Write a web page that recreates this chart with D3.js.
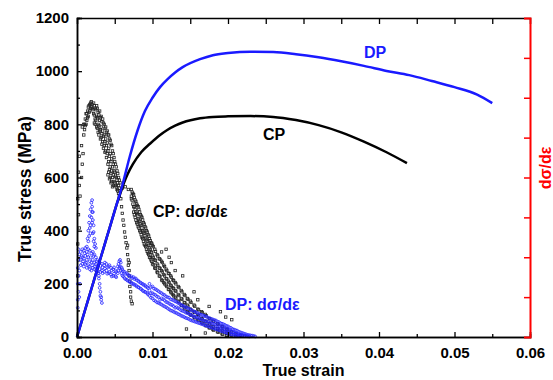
<!DOCTYPE html>
<html>
<head>
<meta charset="utf-8">
<script src="https://cdn.jsdelivr.net/npm/d3@7"></script>
<style>
  body { margin: 0; background: #fff; }
  svg { display: block; font-family: "Liberation Sans", Arial, sans-serif; font-weight: bold; }
</style>
</head>
<body>
<div id="graph"></div>
<script>
// true stress-strain curves [strain, MPa]
const dpCurve = [[0,0],[0.001,95],[0.002,190],[0.003,285],[0.004,380],[0.005,475],[0.006,570],[0.007,680],
  [0.008,775],[0.009,850],[0.010,900],[0.011,940],[0.012,970],[0.013,995],[0.014,1015],[0.0163,1045],
  [0.018,1060],[0.020,1068],[0.023,1073],[0.026,1072],[0.029,1064],[0.032,1052],[0.035,1037],[0.038,1020],
  [0.041,1001],[0.044,985],[0.047,963],[0.050,940],[0.053,912],[0.055,880]];

const cpCurve = [[0,0],[0.001,95],[0.002,190],[0.003,285],[0.004,380],[0.005,475],[0.0054,512],[0.0058,545],
  [0.0062,578],[0.0067,612],[0.0074,650],[0.0085,695],[0.0097,728],[0.011,760],[0.0119,778],[0.013,795],
  [0.014,807],[0.0163,823],[0.018,828],[0.020,830],[0.023,831],[0.026,828],[0.029,816],[0.032,797],
  [0.035,770],[0.038,735],[0.041,695],[0.0437,654]];

// work hardening rate dσ/dε, CP (black squares)
const cpRate = [
  [0.0001,230],[0.0002,290],[0.0001,350],[0.0003,410],[0.0002,460],[0.0001,520],[0.0003,570],[0.0002,620],
  [0.0006,600],[0.0007,650],[0.0008,690],[0.0006,720],[0.0009,760],[0.0007,790],[0.0004,530],[0.0003,680],
  [0.0009,800],[0.0010,780],[0.0011,820],[0.0012,800],[0.0012,840],[0.0013,815],[0.0014,850],[0.0015,830],
  [0.0015,865],[0.0016,845],[0.0017,875],[0.0018,860],[0.0019,885],[0.0019,865],[0.0020,875],[0.0021,855],
  [0.0010,800],[0.0011,795],[0.0013,840],[0.0014,825],[0.0016,870],[0.0017,850],[0.0018,880],[0.0020,860],
  [0.0022,880],[0.0022,840],[0.0024,860],[0.0024,820],[0.0024,800],[0.0026,870],[0.0026,830],[0.0026,790],
  [0.0028,845],[0.0028,800],[0.0028,770],[0.0030,850],[0.0030,815],[0.0030,775],[0.0032,830],[0.0032,790],
  [0.0032,750],[0.0034,820],[0.0034,775],[0.0034,735],[0.0036,800],[0.0036,760],[0.0036,720],[0.0038,790],
  [0.0038,745],[0.0038,700],[0.0040,775],[0.0040,730],[0.0040,690],[0.0042,760],[0.0042,710],[0.0042,660],
  [0.0042,620],[0.0044,740],[0.0044,690],[0.0044,640],[0.0044,600],[0.0046,720],[0.0046,670],[0.0046,625],
  [0.0046,585],[0.0048,690],[0.0048,650],[0.0048,610],[0.0048,570],[0.0050,660],[0.0050,620],[0.0050,580],
  [0.0052,640],[0.0052,600],[0.0052,565],[0.0054,615],[0.0054,580],[0.0054,550],[0.0056,590],[0.0056,560],
  [0.0056,530],
  [0.0023,870],[0.0023,835],[0.0023,805],[0.0025,855],[0.0025,815],[0.0027,860],[0.0027,825],[0.0027,785],
  [0.0029,835],[0.0029,795],[0.0029,760],[0.0031,825],[0.0031,780],[0.0031,745],[0.0033,810],[0.0033,765],
  [0.0033,725],[0.0035,805],[0.0035,755],[0.0035,710],[0.0037,785],[0.0037,735],[0.0037,695],[0.0039,770],
  [0.0039,720],[0.0039,675],[0.0041,760],[0.0041,700],[0.0041,650],[0.0041,610],[0.0043,745],[0.0043,680],
  [0.0043,630],[0.0043,595],[0.0045,725],[0.0045,660],[0.0045,615],[0.0045,580],[0.0047,700],[0.0047,640],
  [0.0047,600],[0.0047,565],[0.0049,675],[0.0049,625],[0.0049,585],[0.0051,650],[0.0051,605],[0.0051,570],
  [0.0053,625],[0.0053,590],[0.0053,555],[0.0055,600],[0.0055,570],[0.0055,540],[0.0057,580],[0.0057,550],
  [0.0058,520],[0.0059,490],[0.0060,465],[0.0061,440],[0.0062,420],[0.0063,395],[0.0064,375],[0.0065,355],
  [0.0066,335],[0.0067,310],[0.0068,290],[0.0068,270],[0.0069,250],[0.0069,230],[0.0070,210],[0.0070,190],
  [0.0071,170],[0.0071,150],[0.0072,135],[0.0073,125],[0.0067,345],[0.0069,280],
  [0.0060,560],[0.0064,565],[0.0068,555],
  [0.0072,555],[0.0072,520],[0.0074,540],[0.0074,500],[0.0076,525],[0.0076,490],[0.0076,460],[0.0078,510],
  [0.0078,470],[0.0078,440],[0.0080,495],[0.0080,460],[0.0080,425],[0.0082,480],[0.0082,440],[0.0082,410],
  [0.0084,460],[0.0084,425],[0.0084,395],[0.0086,450],[0.0086,410],[0.0086,375],[0.0088,430],[0.0088,395],
  [0.0088,360],[0.0090,415],[0.0090,380],[0.0090,345],[0.0092,400],[0.0092,365],[0.0092,330],[0.0094,385],
  [0.0094,350],[0.0094,315],[0.0096,370],[0.0096,335],[0.0096,300],[0.0098,355],[0.0098,320],[0.0098,290],
  [0.0100,345],[0.0100,305],[0.0100,275],[0.0103,330],[0.0103,290],[0.0103,260],[0.0106,310],[0.0106,275],
  [0.0106,245],[0.0109,295],[0.0109,260],[0.0109,230],[0.0112,285],[0.0112,250],[0.0112,215],[0.0115,270],
  [0.0115,235],[0.0115,205],[0.0118,255],[0.0118,220],[0.0118,195],[0.0121,240],[0.0121,210],[0.0121,180],
  [0.0124,230],[0.0124,195],[0.0124,170],[0.0127,215],[0.0127,185],[0.0127,160],[0.0130,205],[0.0130,175],
  [0.0130,150],[0.0134,190],[0.0134,160],[0.0134,135],[0.0138,175],[0.0138,145],[0.0138,120],[0.0142,160],
  [0.0142,130],[0.0142,110],[0.0146,145],[0.0146,120],[0.0146,95],[0.0150,135],[0.0150,105],[0.0150,85],
  [0.0155,120],[0.0155,95],[0.0155,75],[0.0160,105],[0.0160,85],[0.0160,65],[0.0165,95],[0.0165,70],
  [0.0165,55],[0.0170,85],[0.0170,60],[0.0170,45],[0.0175,70],[0.0175,50],[0.0175,35],[0.0180,60],
  [0.0180,40],[0.0180,28],[0.0186,50],[0.0186,32],[0.0186,20],[0.0192,40],[0.0192,25],[0.0192,12],
  [0.0198,30],[0.0198,15],[0.0198,6],[0.0204,20],[0.0204,8],[0.0210,12],[0.0210,4],[0.0216,6],[0.0222,3],
  [0.0072,530],[0.0073,545],[0.0073,515],[0.0075,535],[0.0075,490],[0.0075,470],[0.0077,515],[0.0077,480],
  [0.0077,450],[0.0079,500],[0.0079,465],[0.0079,430],[0.0081,490],[0.0081,445],[0.0081,415],[0.0083,470],
  [0.0083,435],[0.0083,400],[0.0085,455],[0.0085,420],[0.0085,385],[0.0087,440],[0.0087,400],[0.0087,370],
  [0.0089,425],[0.0089,390],[0.0089,350],[0.0091,410],[0.0091,372],[0.0091,340],[0.0093,395],[0.0093,360],
  [0.0093,322],[0.0095,380],[0.0095,345],[0.0095,310],[0.0097,362],[0.0097,330],[0.0097,298],[0.0099,352],
  [0.0099,318],[0.0099,285],[0.0101,340],[0.0101,300],[0.0101,272],[0.0104,322],[0.0104,288],[0.0104,258],
  [0.0107,305],[0.0107,270],[0.0107,242],[0.0110,292],[0.0110,258],[0.0110,228],[0.0113,280],[0.0113,245],
  [0.0113,212],[0.0116,265],[0.0116,230],[0.0116,200],[0.0119,250],[0.0119,218],[0.0119,190],[0.0122,238],
  [0.0122,205],[0.0122,178],[0.0125,225],[0.0125,192],[0.0125,166],[0.0128,212],[0.0128,182],[0.0128,155],
  [0.0131,200],[0.0131,172],[0.0131,146],[0.0135,186],[0.0135,156],[0.0135,132],[0.0139,170],[0.0139,142],
  [0.0139,118],[0.0143,156],[0.0143,128],[0.0143,106],[0.0147,142],[0.0147,116],[0.0147,92],[0.0151,130],
  [0.0151,102],[0.0151,82],[0.0156,116],[0.0156,92],[0.0156,72],[0.0161,102],[0.0161,80],[0.0161,62],
  [0.0166,92],[0.0166,68],[0.0166,52],[0.0171,80],[0.0171,58],[0.0171,42],[0.0176,68],[0.0176,48],
  [0.0176,34],[0.0181,58],[0.0181,38],[0.0181,26],[0.0187,48],[0.0187,30],[0.0187,18],[0.0193,38],
  [0.0193,22],[0.0193,10],[0.0199,28],[0.0199,14],[0.0199,5],[0.0205,18],[0.0205,7],[0.0211,10],
  [0.0211,3],[0.0217,5],
  [0.0118,330],[0.0125,280],[0.0130,250],[0.0140,230],[0.0155,170],[0.0160,140],[0.0175,115],[0.0190,95],
  [0.0205,65],[0.0145,30],[0.0170,15],[0.0197,75],[0.0112,320],[0.0122,300]];

// work hardening rate dσ/dε, DP (blue circles)
const dpRate = [
  [0.0001,110],[0.0001,140],[0.0002,170],[0.0001,200],[0.0002,230],[0.0001,260],[0.0002,290],[0.0003,310],
  [0.0002,330],[0.0003,250],[0.0004,200],[0.0003,150],
  [0.0005,320],[0.0005,290],[0.0005,270],[0.0007,330],[0.0007,300],[0.0007,275],[0.0009,325],[0.0009,295],
  [0.0009,265],[0.0011,335],[0.0011,305],[0.0011,275],[0.0013,320],[0.0013,290],[0.0013,260],[0.0015,330],
  [0.0015,300],[0.0015,270],[0.0017,325],[0.0017,285],[0.0017,255],[0.0019,315],[0.0019,280],[0.0019,250],
  [0.0021,320],[0.0021,290],[0.0021,260],[0.0023,310],[0.0023,280],[0.0023,255],[0.0025,300],[0.0025,275],
  [0.0025,250],[0.0027,290],[0.0027,265],[0.0027,245],
  [0.0006,305],[0.0008,285],[0.0010,315],[0.0012,280],[0.0014,310],[0.0016,265],[0.0018,300],[0.0020,270],
  [0.0022,305],[0.0024,265],[0.0026,285],
  [0.0013,340],[0.0014,370],[0.0015,400],[0.0016,430],[0.0017,455],[0.0018,480],[0.0019,505],[0.0020,515],
  [0.0020,490],[0.0021,470],[0.0021,440],[0.0022,420],[0.0022,395],[0.0023,370],[0.0024,350],[0.0025,335],
  [0.0016,380],[0.0018,420],[0.0019,450],[0.0020,470],[0.0017,410],[0.0021,390],[0.0023,340],[0.0015,360],
  [0.0018,390],[0.0020,430],[0.0022,360],
  [0.0028,240],[0.0029,220],[0.0030,200],[0.0030,185],[0.0031,170],[0.0031,155],[0.0032,140],[0.0033,128],
  [0.0029,230],[0.0032,150],
  [0.0030,280],[0.0030,255],[0.0033,275],[0.0033,250],[0.0036,270],[0.0036,245],[0.0039,275],[0.0039,250],
  [0.0042,265],[0.0042,240],[0.0045,260],[0.0045,235],[0.0048,255],[0.0048,230],[0.0051,250],[0.0051,228],
  [0.0054,265],[0.0054,240],[0.0056,285],[0.0056,260],[0.0058,280],[0.0058,250],[0.0060,255],[0.0060,232],
  [0.0063,245],[0.0063,222],[0.0066,240],[0.0066,215],[0.0069,232],[0.0069,210],[0.0072,228],[0.0072,205],
  [0.0075,225],[0.0075,200],[0.0078,220],[0.0078,195],[0.0081,212],[0.0081,188],[0.0084,205],[0.0084,182],
  [0.0087,200],[0.0087,175],[0.0090,195],[0.0090,170],[0.0093,188],[0.0093,165],
  [0.0031,268],[0.0031,245],[0.0034,262],[0.0034,240],[0.0037,280],[0.0037,258],[0.0040,262],[0.0040,238],
  [0.0043,270],[0.0043,245],[0.0046,250],[0.0046,228],[0.0049,262],[0.0049,238],[0.0052,245],[0.0052,225],
  [0.0055,275],[0.0055,250],[0.0057,290],[0.0057,265],[0.0059,262],[0.0059,240],[0.0061,248],[0.0061,228],
  [0.0064,238],[0.0064,218],[0.0067,235],[0.0067,212],[0.0070,226],[0.0070,206],[0.0073,222],[0.0073,200],
  [0.0076,218],[0.0076,196],[0.0079,214],[0.0079,190],[0.0082,208],[0.0082,186],[0.0085,202],[0.0085,180],
  [0.0088,196],[0.0088,172],[0.0091,190],[0.0091,168],[0.0094,184],[0.0094,160],
  [0.0096,200],[0.0096,175],[0.0096,155],[0.0100,190],[0.0100,165],[0.0100,145],[0.0104,180],[0.0104,158],
  [0.0104,135],[0.0108,172],[0.0108,150],[0.0108,128],[0.0112,165],[0.0112,145],[0.0112,122],[0.0116,158],
  [0.0116,138],[0.0116,115],[0.0120,150],[0.0120,130],[0.0120,108],[0.0124,142],[0.0124,122],[0.0124,100],
  [0.0128,138],[0.0128,116],[0.0128,95],[0.0132,132],[0.0132,112],[0.0132,90],[0.0136,125],[0.0136,105],
  [0.0136,84],[0.0140,118],[0.0140,98],[0.0140,78],[0.0144,112],[0.0144,92],[0.0144,72],[0.0148,106],
  [0.0148,88],[0.0148,68],[0.0152,100],[0.0152,82],[0.0152,62],[0.0156,95],[0.0156,76],[0.0156,58],
  [0.0160,90],[0.0160,72],[0.0160,54],[0.0164,84],[0.0164,67],[0.0164,50],[0.0168,80],[0.0168,62],
  [0.0168,46],[0.0172,76],[0.0172,58],[0.0172,42],[0.0176,70],[0.0176,54],[0.0176,38],[0.0180,66],
  [0.0180,50],[0.0180,34],[0.0184,62],[0.0184,46],[0.0184,30],[0.0188,56],[0.0188,40],[0.0188,26],
  [0.0192,50],[0.0192,36],[0.0192,22],[0.0196,45],[0.0196,30],[0.0196,18],[0.0200,40],[0.0200,26],
  [0.0200,14],[0.0204,34],[0.0204,20],[0.0204,10],[0.0208,28],[0.0208,16],[0.0208,8],[0.0212,24],
  [0.0212,12],[0.0212,5],[0.0216,18],[0.0216,9],[0.0216,3],[0.0220,14],[0.0220,6],[0.0224,10],[0.0224,4],
  [0.0228,7],[0.0228,2],[0.0232,5],[0.0236,2],
  [0.0098,188],[0.0098,165],[0.0098,148],[0.0102,182],[0.0102,160],[0.0102,138],[0.0106,176],[0.0106,152],
  [0.0106,130],[0.0110,168],[0.0110,140],[0.0110,125],[0.0114,160],[0.0114,142],[0.0114,118],[0.0118,152],
  [0.0118,132],[0.0118,112],[0.0122,148],[0.0122,126],[0.0122,104],[0.0126,140],[0.0126,120],[0.0126,98],
  [0.0130,134],[0.0130,110],[0.0130,92],[0.0134,128],[0.0134,108],[0.0134,86],[0.0138,120],[0.0138,100],
  [0.0138,80],[0.0142,114],[0.0142,96],[0.0142,75],[0.0146,110],[0.0146,90],[0.0146,70],[0.0150,104],
  [0.0150,84],[0.0150,64],[0.0154,98],[0.0154,78],[0.0154,60],[0.0158,92],[0.0158,74],[0.0158,56],
  [0.0162,86],[0.0162,70],[0.0162,52],[0.0166,82],[0.0166,64],[0.0166,48],[0.0170,78],[0.0170,60],
  [0.0170,44],[0.0174,72],[0.0174,56],[0.0174,40],[0.0178,68],[0.0178,52],[0.0178,36],[0.0182,64],
  [0.0182,48],[0.0182,32],[0.0186,58],[0.0186,42],[0.0186,28],[0.0190,52],[0.0190,38],[0.0190,24],
  [0.0194,48],[0.0194,34],[0.0194,20],[0.0198,42],[0.0198,28],[0.0198,16],[0.0202,36],[0.0202,24],
  [0.0202,12],[0.0206,30],[0.0206,18],[0.0206,9],[0.0210,26],[0.0210,14],[0.0210,6],[0.0214,20],
  [0.0214,10],[0.0214,4],[0.0218,16],[0.0218,8],[0.0222,12],[0.0222,5],[0.0226,8],[0.0226,3],[0.0230,6],
  [0.0234,4]];

const xTicks = [0, 0.01, 0.02, 0.03, 0.04, 0.05, 0.06];
const yTicks = [0, 200, 400, 600, 800, 1000, 1200];

const width = 553, height = 380;
const margin = {top: 18, right: 23, bottom: 43, left: 77};

const svg = d3.select("#graph").append("svg")
  .attr("width", width).attr("height", height);

const x = d3.scaleLinear().domain([0, 0.06]).range([margin.left, width - margin.right]);
const y = d3.scaleLinear().domain([0, 1200]).range([height - margin.bottom, margin.top]);
const yR = d3.scaleLinear().domain([0, 1200]).range([height - margin.bottom, margin.top]);

// scatter of dσ/dε
svg.append("g").selectAll("rect")
  .data(cpRate).enter().append("rect")
  .attr("x", d => x(d[0]) - 1.2).attr("y", d => yR(d[1]) - 1.2)
  .attr("width", 2.4).attr("height", 2.4)
  .attr("fill", "none").attr("stroke", "#222").attr("stroke-width", 0.8);

svg.append("g").selectAll("circle")
  .data(dpRate).enter().append("circle")
  .attr("cx", d => x(d[0])).attr("cy", d => yR(d[1])).attr("r", 1.4)
  .attr("fill", "none").attr("stroke", "#2424ff").attr("stroke-width", 0.8);

// stress curves
const line = d3.line().x(d => x(d[0])).y(d => y(d[1])).curve(d3.curveMonotoneX);
svg.append("path").datum(cpCurve).attr("d", line)
  .attr("fill", "none").attr("stroke", "#000").attr("stroke-width", 2.5);
svg.append("path").datum(dpCurve).attr("d", line)
  .attr("fill", "none").attr("stroke", "#1a1aff").attr("stroke-width", 2.5);

// axes
const bottom = svg.append("g").attr("transform", `translate(0,${y(0)})`)
  .call(d3.axisBottom(x).tickValues(xTicks).tickSize(-5).tickPadding(10).tickFormat(d3.format(".2f")));
bottom.append("g").call(d3.axisBottom(x).tickValues(d3.range(0.005, 0.06, 0.01)).tickSize(-3).tickFormat(""));

const left = svg.append("g").attr("transform", `translate(${x(0)},0)`)
  .call(d3.axisLeft(y).tickValues(yTicks).tickSize(-5).tickPadding(8).tickFormat(d3.format("d")));
left.append("g").call(d3.axisLeft(y).tickValues(d3.range(100, 1200, 200)).tickSize(-3).tickFormat(""));

svg.append("g").attr("transform", `translate(0,${y(1200)})`)
  .call(d3.axisTop(x).tickValues(d3.range(0.005, 0.06, 0.005)).tickSize(-6).tickFormat(""));

const right = svg.append("g").attr("transform", `translate(${x(0.06)},0)`)
  .call(d3.axisRight(yR).tickValues(d3.range(150, 1200, 150)).tickSize(-6).tickFormat(""));
right.selectAll("line").attr("stroke", "#ff0000").attr("stroke-width", 1.5);
right.select(".domain").attr("stroke", "#ff0000").attr("stroke-width", 2);

svg.selectAll("g .domain").filter(function() { return this.parentNode !== right.node(); })
  .attr("stroke", "#000").attr("stroke-width", 1.5);
svg.selectAll(".tick line").filter(function() { return !right.node().contains(this); })
  .attr("stroke", "#000").attr("stroke-width", 1.3);
svg.selectAll(".tick text").attr("font-size", 15).attr("font-weight", "bold")
  .attr("font-family", "Liberation Sans, Arial, sans-serif").attr("fill", "#000");

// titles
svg.append("text").attr("x", x(0.03)).attr("y", 376).attr("text-anchor", "middle")
  .attr("font-size", 16).text("True strain");
svg.append("text").attr("transform", "translate(31,189) rotate(-90)")
  .attr("text-anchor", "middle").attr("font-size", 17.5).text("True stress (MPa)");
svg.append("text").attr("transform", "translate(551,168) rotate(-90)")
  .attr("text-anchor", "middle").attr("font-size", 16).attr("fill", "#ff0000")
  .text("dσ/dε");

// annotations
svg.append("text").attr("x", 364).attr("y", 58).attr("font-size", 16).attr("fill", "#1a1aff").text("DP");
svg.append("text").attr("x", 263).attr("y", 140).attr("font-size", 16).attr("fill", "#000").text("CP");
svg.append("text").attr("x", 153).attr("y", 217).attr("font-size", 16).attr("fill", "#000").text("CP: dσ/dε");
svg.append("text").attr("x", 225).attr("y", 310).attr("font-size", 16).attr("fill", "#1a1aff").text("DP: dσ/dε");
</script>
</body>
</html>
